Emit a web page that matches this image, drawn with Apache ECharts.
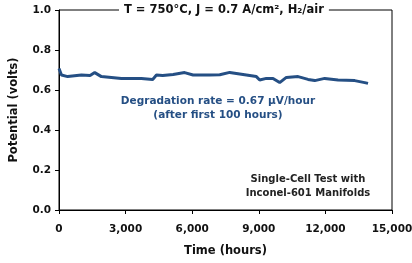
<!DOCTYPE html>
<html>
<head>
<meta charset="utf-8">
<script src="https://cdn.jsdelivr.net/npm/echarts@6/dist/echarts.min.js"></script>
<style>
  html, body { margin: 0; padding: 0; background: #fff; }
  #main { width: 412px; height: 263px; }
</style>
</head>
<body>
<div id="main"></div>
<script>
// time (hours) and cell potential (volts)
var hours = [0, 60, 110, 390, 1010, 1400, 1610, 1910, 2810, 3710, 4220, 4390, 4670,
             5140, 5660, 6040, 6790, 7240, 7690, 7990, 8440, 8890, 9040, 9340,
             9640, 9940, 10240, 10770, 11220, 11520, 11970, 12570, 13320, 13770, 13920];
var volts = [0.708, 0.69, 0.675, 0.667, 0.675, 0.672, 0.687, 0.667, 0.658, 0.658, 0.653, 0.675, 0.672,
             0.678, 0.687, 0.675, 0.675, 0.676, 0.688, 0.683, 0.675, 0.667, 0.65, 0.658,
             0.658, 0.637, 0.663, 0.667, 0.653, 0.647, 0.658, 0.65, 0.647, 0.637, 0.633];

var xTicks = { min: 0, max: 15000, step: 3000 };
var yTicks = { min: 0, max: 1, step: 0.2 };

var font = 'DejaVu Sans';
var lineColor = '#254f84';

var chart = echarts.init(document.getElementById('main'));

var points = hours.map(function (h, i) { return [h, volts[i]]; });

var option = {
    animation: false,
    title: {
        text: 'T = 750°C, J = 0.7 A/cm², H₂/air',
        left: 119,
        top: 3,
        padding: [0, 5],
        backgroundColor: '#fff',
        textStyle: { fontFamily: font, fontSize: 11.5, fontWeight: 'bold', color: '#111', lineHeight: 14 }
    },
    grid: {
        left: 59, right: 20, top: 10, bottom: 53,
        outerBoundsMode: 'none',
        show: true, borderColor: '#000', borderWidth: 1
    },
    xAxis: {
        type: 'value',
        min: xTicks.min, max: xTicks.max, interval: xTicks.step,
        name: 'Time (hours)',
        nameLocation: 'middle',
        nameGap: 35,
        nameTextStyle: { fontFamily: font, fontSize: 11.5, fontWeight: 'bold', color: '#111' },
        axisLine: { lineStyle: { color: '#000', width: 1 } },
        axisTick: { length: 4, lineStyle: { color: '#000' } },
        splitLine: { show: false },
        axisLabel: {
            margin: 14,
            fontFamily: font, fontSize: 10.5, fontWeight: 'bold', color: '#111',
            formatter: function (v) { return v.toLocaleString('en-US'); }
        }
    },
    yAxis: {
        type: 'value',
        min: yTicks.min, max: yTicks.max, interval: yTicks.step,
        name: 'Potential (volts)',
        nameLocation: 'middle',
        nameGap: 39,
        nameTextStyle: { fontFamily: font, fontSize: 11.5, fontWeight: 'bold', color: '#111' },
        axisLine: { show: true, lineStyle: { color: '#000', width: 1 } },
        axisTick: { show: true, length: 4, lineStyle: { color: '#000' } },
        splitLine: { show: false },
        axisLabel: {
            margin: 8,
            fontFamily: font, fontSize: 10.5, fontWeight: 'bold', color: '#111',
            formatter: function (v) { return v.toFixed(1); }
        }
    },
    series: [{
        type: 'line',
        data: points,
        showSymbol: false,
        lineStyle: { color: lineColor, width: 3 }
    }],
    graphic: [
        {
            type: 'text', x: 218, y: 94,
            style: {
                text: 'Degradation rate = 0.67 μV/hour\n(after first 100 hours)',
                align: 'center',
                font: 'bold 10.5px ' + font, fill: lineColor, lineHeight: 14
            }
        },
        {
            type: 'text', x: 308, y: 172,
            style: {
                text: 'Single-Cell Test with\nInconel-601 Manifolds',
                align: 'center',
                font: 'bold 10px ' + font, fill: '#222', lineHeight: 14
            }
        }
    ]
};

chart.setOption(option);
</script>
</body>
</html>
